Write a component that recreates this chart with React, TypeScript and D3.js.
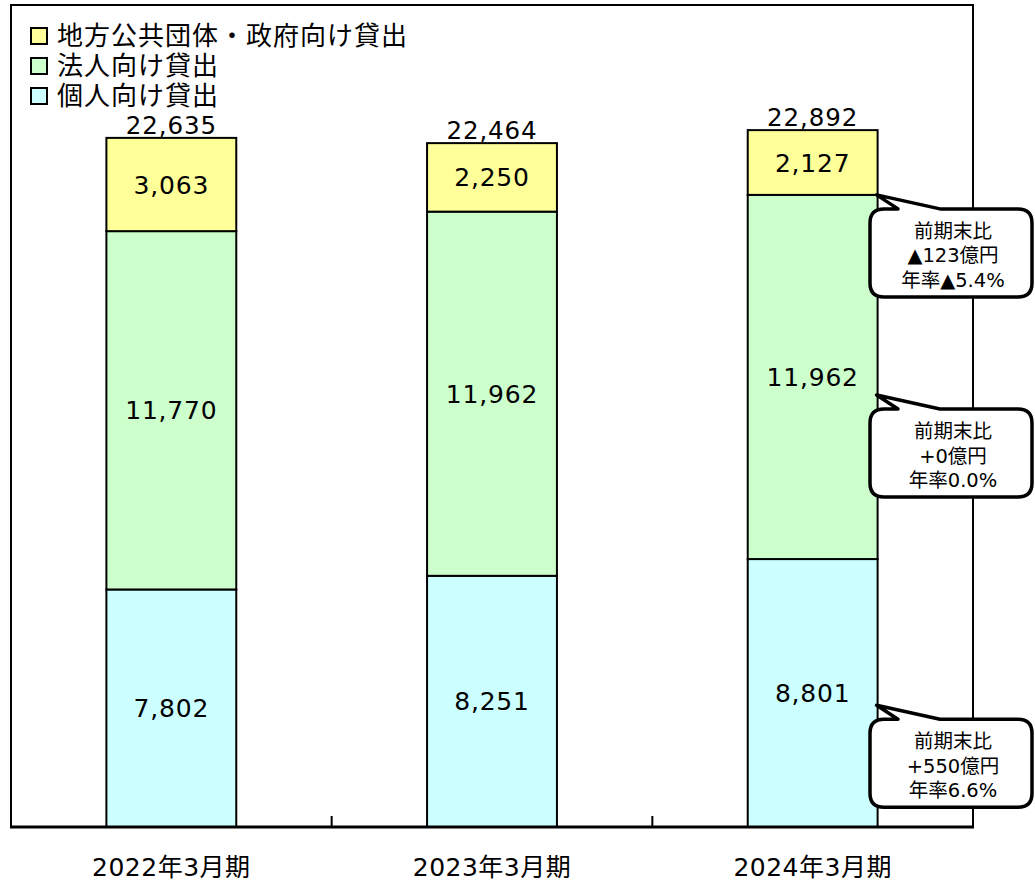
import React, { useEffect, useRef } from "react";
import * as d3 from "d3";

// Loan balance by borrower type (億円)
const categories = ["2022年3月期", "2023年3月期", "2024年3月期"];
const individualLoans = [7802, 8251, 8801];
const corporateLoans = [11770, 11962, 11962];
const publicLoans = [3063, 2250, 2127];
const totals = [22635, 22464, 22892];

const seriesNames = ["地方公共団体・政府向け貸出", "法人向け貸出", "個人向け貸出"];
const seriesColors = ["#FFFF99", "#CCFFCC", "#CCFFFF"];

// Year-on-year change callouts for the latest period (top → bottom)
const calloutTitle = "前期末比";
const calloutChange = ["▲123億円", "+0億円", "+550億円"];
const calloutRate = ["年率▲5.4%", "年率0.0%", "年率6.6%"];
const calloutAnchor = [20763, 14190, 4000];

const W = 1035;
const H = 882;
const FONT = "Verdana, 'DejaVu Sans', 'Noto Sans CJK JP', sans-serif";

export default function App() {
  const ref = useRef<SVGSVGElement>(null);

  useEffect(() => {
    const svg = d3.select(ref.current);
    svg.selectAll("*").remove();

    const plot = { left: 11, right: 973, top: 5, bottom: 827 };

    const x = d3
      .scaleBand<string>()
      .domain(categories)
      .range([plot.left, plot.right])
      .padding(0);
    const barW = x.bandwidth() * 0.405;
    const y = d3.scaleLinear().domain([0, 27000]).range([plot.bottom, plot.top]);

    // frame
    svg
      .append("rect")
      .attr("x", plot.left)
      .attr("y", plot.top)
      .attr("width", plot.right - plot.left)
      .attr("height", plot.bottom - plot.top)
      .attr("fill", "#fff")
      .attr("stroke", "#000")
      .attr("stroke-width", 2);

    // stacked bars
    const rows = categories.map((c, i) => ({
      cat: c,
      individual: individualLoans[i],
      corporate: corporateLoans[i],
      public: publicLoans[i],
    }));
    const keys = ["individual", "corporate", "public"];
    const colorFor: Record<string, string> = {
      individual: seriesColors[2],
      corporate: seriesColors[1],
      public: seriesColors[0],
    };
    const stack = d3.stack<any>().keys(keys)(rows);

    stack.forEach((layer) => {
      const key = layer.key;
      layer.forEach((d) => {
        const cx = (x(d.data.cat) as number) + x.bandwidth() / 2;
        svg
          .append("rect")
          .attr("x", cx - barW / 2)
          .attr("y", y(d[1]))
          .attr("width", barW)
          .attr("height", y(d[0]) - y(d[1]))
          .attr("fill", colorFor[key])
          .attr("stroke", "#000")
          .attr("stroke-width", 2);
        svg
          .append("text")
          .attr("x", cx)
          .attr("y", (y(d[0]) + y(d[1])) / 2)
          .attr("dy", "0.36em")
          .attr("text-anchor", "middle")
          .attr("font-family", FONT)
          .attr("font-size", 25)
          .attr("letter-spacing", 0.8)
          .attr("fill", "#000")
          .text(d3.format(",")(d.data[key]));
      });
    });

    // totals
    categories.forEach((c, i) => {
      const cx = (x(c) as number) + x.bandwidth() / 2;
      svg
        .append("text")
        .attr("x", cx)
        .attr("y", y(totals[i]) - 4)
        .attr("text-anchor", "middle")
        .attr("font-family", FONT)
        .attr("font-size", 24.5)
        .attr("letter-spacing", 0.9)
        .text(d3.format(",")(totals[i]));
    });

    // x axis
    svg
      .append("line")
      .attr("x1", plot.left - 1)
      .attr("x2", plot.right + 1)
      .attr("y1", plot.bottom)
      .attr("y2", plot.bottom)
      .attr("stroke", "#000")
      .attr("stroke-width", 3);
    categories.slice(1).forEach((c) => {
      const tx = x(c) as number;
      svg
        .append("line")
        .attr("x1", tx)
        .attr("x2", tx)
        .attr("y1", plot.bottom)
        .attr("y2", plot.bottom - 11)
        .attr("stroke", "#000")
        .attr("stroke-width", 2);
    });
    categories.forEach((c) => {
      svg
        .append("text")
        .attr("x", (x(c) as number) + x.bandwidth() / 2)
        .attr("y", 867)
        .attr("dy", "0.36em")
        .attr("text-anchor", "middle")
        .attr("font-family", FONT)
        .attr("font-size", 25)
        .attr("letter-spacing", 0.5)
        .text(c);
    });

    // legend
    seriesNames.forEach((name, i) => {
      const ly = 36 + i * 30;
      svg
        .append("rect")
        .attr("x", 31)
        .attr("y", ly - 8)
        .attr("width", 16)
        .attr("height", 16)
        .attr("fill", seriesColors[i])
        .attr("stroke", "#000")
        .attr("stroke-width", 2);
      svg
        .append("text")
        .attr("x", 57)
        .attr("y", ly)
        .attr("dy", "0.36em")
        .attr("font-family", FONT)
        .attr("font-size", 26)
        .attr("letter-spacing", 1)
        .text(name);
    });

    // callouts on the latest bar
    const lastCat = categories[categories.length - 1];
    const barRight = (x(lastCat) as number) + x.bandwidth() / 2 + barW / 2;
    calloutAnchor.forEach((v, i) => {
      const tipX = barRight - 1;
      const tipY = y(v);
      const bx = 870;
      const by = tipY + 14;
      const bw = 162;
      const bh = 88;
      const r = 14;
      const p0 = bx + 28;
      const p1 = bx + 70;
      const path = [
        `M${bx + r},${by}`,
        `L${p0},${by}`,
        `L${tipX},${tipY}`,
        `L${p1},${by}`,
        `L${bx + bw - r},${by}`,
        `Q${bx + bw},${by} ${bx + bw},${by + r}`,
        `L${bx + bw},${by + bh - r}`,
        `Q${bx + bw},${by + bh} ${bx + bw - r},${by + bh}`,
        `L${bx + r},${by + bh}`,
        `Q${bx},${by + bh} ${bx},${by + bh - r}`,
        `L${bx},${by + r}`,
        `Q${bx},${by} ${bx + r},${by}`,
        "Z",
      ].join(" ");
      svg
        .append("path")
        .attr("d", path)
        .attr("fill", "#fff")
        .attr("stroke", "#000")
        .attr("stroke-width", 3.5)
        .attr("stroke-linejoin", "round");
      const lines = [calloutTitle, calloutChange[i], calloutRate[i]];
      lines.forEach((t, j) => {
        svg
          .append("text")
          .attr("x", bx + bw / 2 + 2)
          .attr("y", by + 22 + j * 24.5)
          .attr("dy", "0.36em")
          .attr("text-anchor", "middle")
          .attr("font-family", FONT)
          .attr("font-size", 19.5)
          .text(t);
      });
    });
  }, []);

  return (
    <svg
      ref={ref}
      width={W}
      height={H}
      style={{ position: "absolute", left: 0, top: 0, background: "#fff" }}
    />
  );
}
